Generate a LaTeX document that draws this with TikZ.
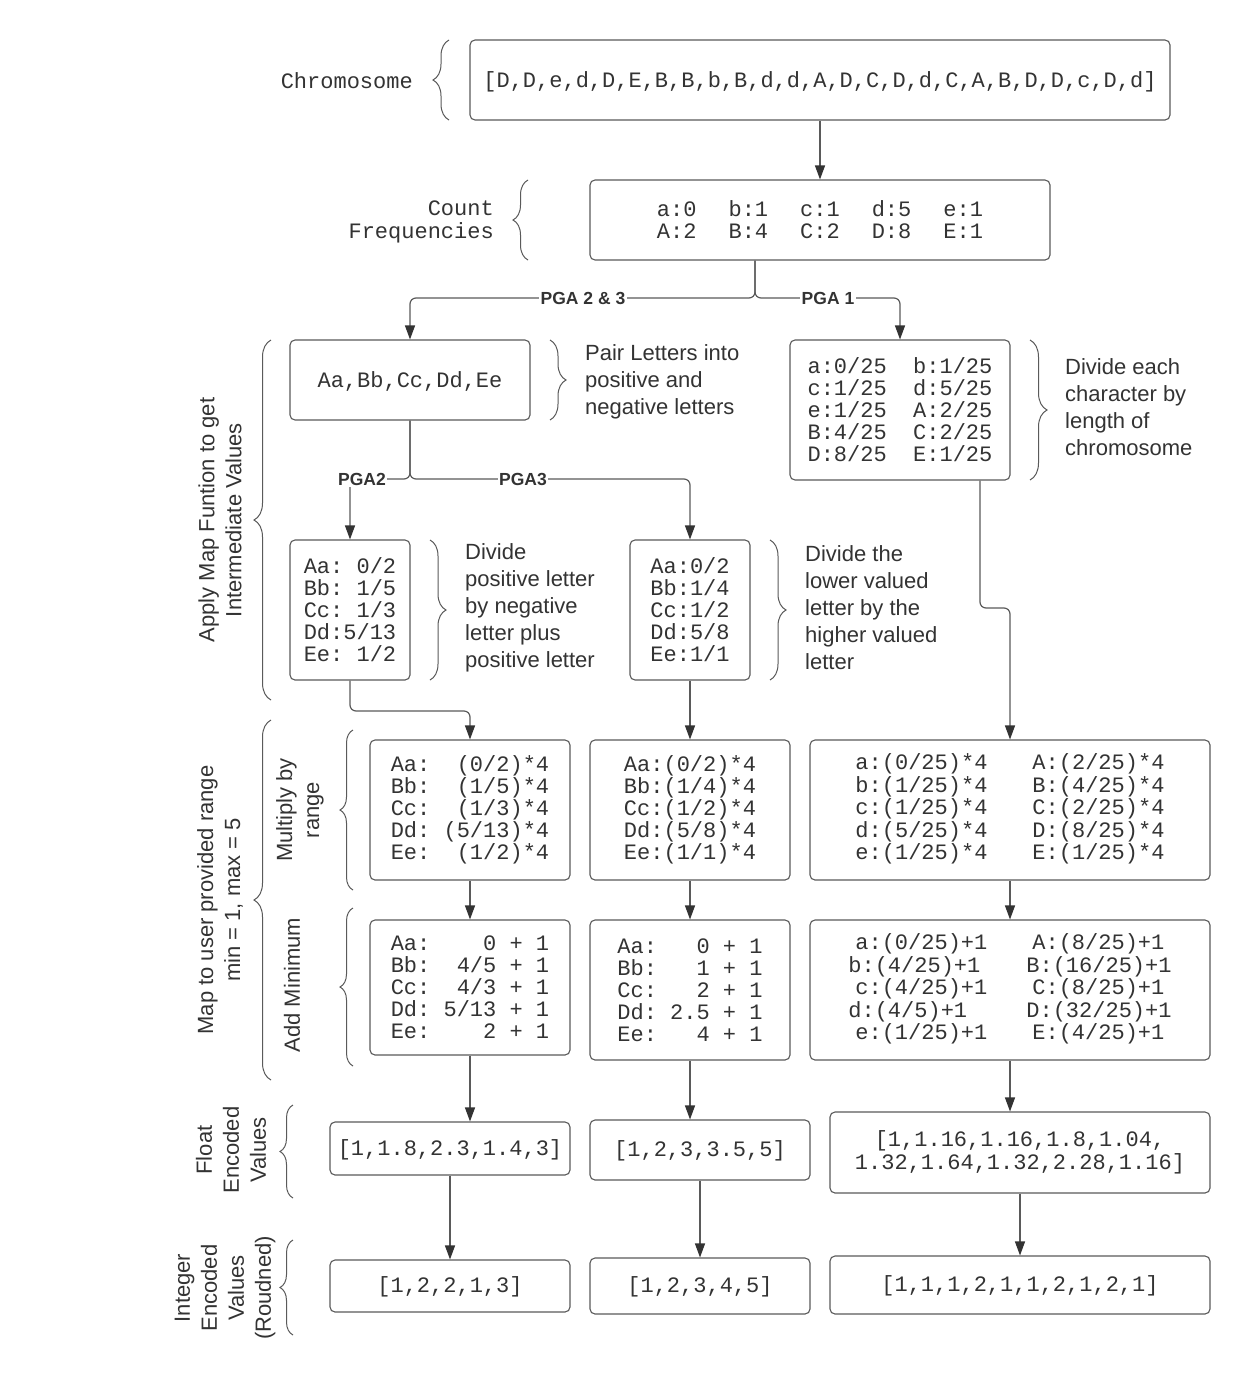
\documentclass[tikz,border=0pt]{standalone}
\usepackage{fontspec}
\setmainfont{Liberation Sans}
\newfontfamily\mono[WordSpace={1,0,0}]{Liberation Mono}
\usetikzlibrary{arrows.meta,decorations.pathreplacing,calc}
\definecolor{ln}{HTML}{5A5A5A}
\definecolor{tx}{HTML}{333333}
\newcommand{\lowr}[2]{\raisebox{-#1}[\height][\depth]{#2}}
\begin{document}
\begin{tikzpicture}[x=1pt,y=-1pt,
  box/.style={draw=ln, line width=1.1pt, rounded corners=5pt, inner sep=0pt, text=tx,
    font=\mono\fontsize{22}{22}\selectfont, align=center},
  lbox/.style={box, align=left},
  monolbl/.style={text=tx, inner sep=0pt, font=\mono\fontsize{22}{23}\selectfont},
  desc/.style={text=tx, inner sep=0pt, align=left, anchor=west, font=\fontsize{22}{27}\selectfont},
  rot/.style={text=tx, inner sep=0pt, align=center, rotate=90, font=\fontsize{22}{27}\selectfont},
  plabel/.style={text=tx, fill=white, inner sep=1.5pt, font=\bfseries\fontsize{17.5}{17.5}\selectfont},
  conn/.style={draw=ln, line width=1.2pt, rounded corners=6pt, -{Triangle[length=14pt,width=10pt,color=tx]}},
  brc/.style={draw=ln, line width=1pt, decorate, decoration={brace, amplitude=#1}},
  brc/.default=15pt
]
\fill[white] (0,0) rectangle (1250,1374);
\useasboundingbox (0,0) rectangle (1250,1374);

% ---------- boxes ----------
\node[box, minimum width=700pt, minimum height=80pt] (chrom) at (820,80)
  {\lowr{2pt}{[D,D,e,d,D,E,B,B,b,B,d,d,A,D,C,D,d,C,A,B,D,D,c,D,d]}};
\node[box, minimum width=460pt, minimum height=80pt] (cnt) at (820,220)
  {\lowr{3pt}{\begin{tabular}{@{}l@{\hspace{32pt}}l@{\hspace{32pt}}l@{\hspace{32pt}}l@{\hspace{32pt}}l@{}}
   a:0 & b:1 & c:1 & d:5 & e:1\\ A:2 & B:4 & C:2 & D:8 & E:1\end{tabular}}};
\node[box, minimum width=240pt, minimum height=80pt] (pair) at (410,380) {\lowr{1pt}{Aa,Bb,Cc,Dd,Ee}};
\node[lbox, minimum width=220pt, minimum height=140pt] (frac) at (900,410)
  {a:0/25~~b:1/25\\c:1/25~~d:5/25\\e:1/25~~A:2/25\\B:4/25~~C:2/25\\D:8/25~~E:1/25};
\node[lbox, minimum width=120pt, minimum height=140pt] (pga2) at (350,610)
  {Aa:~0/2\\Bb:~1/5\\Cc:~1/3\\Dd:5/13\\Ee:~1/2};
\node[lbox, minimum width=120pt, minimum height=140pt] (pga3) at (690,610)
  {Aa:0/2\\Bb:1/4\\Cc:1/2\\Dd:5/8\\Ee:1/1};

\node[lbox, minimum width=200pt, minimum height=140pt] (mulL) at (470,810)
  {Aa:~~(0/2)*4\\Bb:~~(1/5)*4\\Cc:~~(1/3)*4\\Dd:~(5/13)*4\\Ee:~~(1/2)*4};
\node[lbox, minimum width=200pt, minimum height=140pt] (mulM) at (690,810)
  {Aa:(0/2)*4\\Bb:(1/4)*4\\Cc:(1/2)*4\\Dd:(5/8)*4\\Ee:(1/1)*4};
\node[box, minimum width=400pt, minimum height=140pt] (mulR) at (1010,810)
  {\begin{tabular}{@{}l@{\hspace{45pt}}l@{}}
   a:(0/25)*4 & A:(2/25)*4\\ b:(1/25)*4 & B:(4/25)*4\\ c:(1/25)*4 & C:(2/25)*4\\
   d:(5/25)*4 & D:(8/25)*4\\ e:(1/25)*4 & E:(1/25)*4\end{tabular}};

\node[lbox, minimum width=200pt, minimum height=135pt] (addL) at (470,987.5)
  {Aa:~~~~0~+~1\\Bb:~~4/5~+~1\\Cc:~~4/3~+~1\\Dd:~5/13~+~1\\Ee:~~~~2~+~1};
\node[lbox, minimum width=200pt, minimum height=140pt] (addM) at (690,990)
  {Aa:~~~0~+~1\\Bb:~~~1~+~1\\Cc:~~~2~+~1\\Dd:~2.5~+~1\\Ee:~~~4~+~1};
\node[box, minimum width=400pt, minimum height=140pt] (addR) at (1010,990)
  {\begin{tabular}{@{}l@{\hspace{39pt}}l@{}}
   \hspace*{7pt}a:(0/25)+1 & \hspace*{6pt}A:(8/25)+1\\
   b:(4/25)+1 & B:(16/25)+1\\
   \hspace*{7pt}c:(4/25)+1 & \hspace*{6pt}C:(8/25)+1\\
   d:(4/5)+1 & D:(32/25)+1\\
   \hspace*{7pt}e:(1/25)+1 & \hspace*{6pt}E:(4/25)+1\end{tabular}};

\node[box, minimum width=240pt, minimum height=53pt] (fltL) at (450,1148.5) {\lowr{1pt}{[1,1.8,2.3,1.4,3]}};
\node[box, minimum width=220pt, minimum height=60pt] (fltM) at (700,1150) {\lowr{1pt}{[1,2,3,3.5,5]}};
\node[box, minimum width=380pt, minimum height=81pt, font=\mono\fontsize{22}{23}\selectfont] (fltR) at (1020,1152.5)
  {[1,1.16,1.16,1.8,1.04,\\1.32,1.64,1.32,2.28,1.16]};

\node[box, minimum width=240pt, minimum height=52pt] (intL) at (450,1286) {\lowr{1pt}{[1,2,2,1,3]}};
\node[box, minimum width=220pt, minimum height=56pt] (intM) at (700,1286) {\lowr{1pt}{[1,2,3,4,5]}};
\node[box, minimum width=380pt, minimum height=58pt] (intR) at (1020,1285) {\lowr{1pt}{[1,1,1,2,1,1,2,1,2,1]}};

% ---------- labels ----------
\node[monolbl, anchor=east] (lchrom) at (413,81) {Chromosome};
\node[monolbl, anchor=east, align=right] (lcnt) at (494,222) {Count\\Frequencies};
\node[desc] (dpair) at (585,382) {Pair Letters into\\positive and\\negative letters};
\node[desc] (dfrac) at (1065,407) {Divide each\\character by\\length of\\chromosome};
\node[desc] (dpga2) at (465,608) {Divide\\positive letter\\by negative\\letter plus\\positive letter};
\node[desc] (dpga3) at (805,608) {Divide the\\lower valued\\letter by the\\higher valued\\letter};
\node[rot] (lapply) at (220,520) {Apply Map Funtion to get\\Intermediate Values};
\node[rot] (lmap) at (220,900) {Map to user provided range\\min = 1, max = 5};
\node[rot] (lmul) at (300,810) {Multiply by\\range};
\node[rot] (ladd) at (292,985) {Add Minimum};
\node[rot] (lflt) at (231,1150) {Float\\Encoded\\Values};
\node[rot] (lint) at (225,1288) {Integer\\Encoded\\Values\\(Roudned)};

% ---------- braces ----------
\draw[brc=16pt] (449,120) -- (449,40);
\draw[brc=15pt] (528,260) -- (528,180);
\draw[brc=16pt] (550,340) -- (550,420);
\draw[brc=17pt] (1030,340) -- (1030,480);
\draw[brc=16pt] (430,540) -- (430,680);
\draw[brc=16pt] (770,540) -- (770,680);
\draw[brc=17pt] (271,700) -- (271,340);
\draw[brc=17pt] (271,1080) -- (271,720);
\draw[brc=13pt] (353,890) -- (353,730);
\draw[brc=13pt] (353,1066) -- (353,908);
\draw[brc=13pt] (293,1198) -- (293,1105);
\draw[brc=13pt] (293,1335) -- (293,1240);

% ---------- connectors ----------
\coordinate (j1) at (755,298);
\coordinate (j2) at (410,479);
\coordinate (j3) at (350,711);
\coordinate (j4) at (980,608);

\draw[conn] (chrom.south) -- (cnt.north);
\draw[conn] (cnt.south -| j1) -- (j1) -| (pair.north);
\draw[conn] (cnt.south -| j1) -- (j1) -| (frac.north);
\draw[conn] (pair.south) -- (j2) -| (pga2.north);
\draw[conn] (pair.south) -- (j2) -| (pga3.north);
\draw[conn] (pga2.south) -- (j3) -| (mulL.north);
\draw[conn] (pga3.south) -- (mulM.north);
\draw[conn] (frac.south -| j4) -- (j4) -| (mulR.north);
\draw[conn] (mulL.south) -- (addL.north);
\draw[conn] (mulM.south) -- (addM.north);
\draw[conn] (mulR.south) -- (addR.north);
\draw[conn] (addL.south) -- (addL.south |- fltL.north);
\draw[conn] (addM.south) -- (addM.south |- fltM.north);
\draw[conn] (addR.south) -- (addR.south |- fltR.north);
\draw[conn] (fltL.south) -- (intL.north);
\draw[conn] (fltM.south) -- (intM.north);
\draw[conn] (fltR.south) -- (intR.north);

\node[plabel] (p23) at (583,298) {PGA 2 \& 3};
\node[plabel] (p1) at (828,298) {PGA 1};
\node[plabel] (p2) at (362,479) {PGA2};
\node[plabel] (p3) at (523,479) {PGA3};
\end{tikzpicture}
\end{document}
